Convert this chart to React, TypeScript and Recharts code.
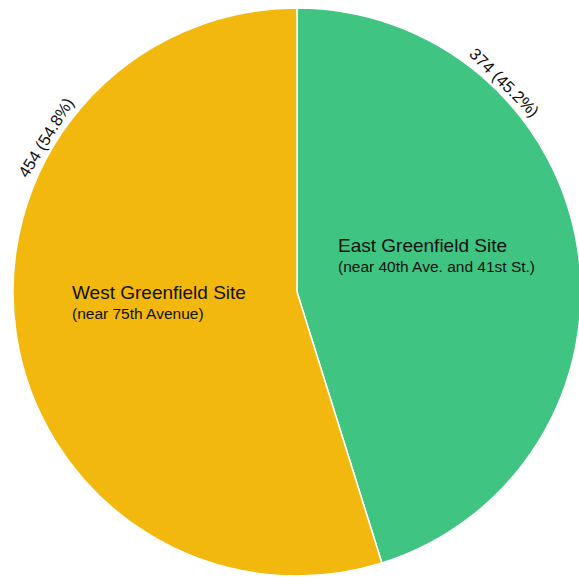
import React from 'react';
import { PieChart, Pie, Cell } from 'recharts';

const sites = ['East Greenfield Site', 'West Greenfield Site'];
const subtitles = ['(near 40th Ave. and 41st St.)', '(near 75th Avenue)'];
const counts = [374, 454];
const colors = ['#3fc482', '#f2b80e'];

// where each value label sits along the rim, degrees clockwise from 12 o'clock
const rimLabelAngle = [44.7, 301.6];
// inside label anchor, offset from the pie centre
const innerLabelOffset = [
  { dx: 41, dy: -40 },
  { dx: -225, dy: 7 },
];

const data = sites.map((name, i) => ({ name, sub: subtitles[i], value: counts[i] }));
const total = counts.reduce((a, b) => a + b, 0);

const renderLabel = (props: any) => {
  const { cx, cy, outerRadius, index, value } = props;
  const deg = rimLabelAngle[index];
  const rad = (deg * Math.PI) / 180;
  const r = outerRadius + 5;
  const x = cx + r * Math.sin(rad);
  const y = cy - r * Math.cos(rad);
  const rot = deg > 180 ? deg - 360 : deg;
  const pct = ((value / total) * 100).toFixed(1);
  const off = innerLabelOffset[index];
  return (
    <g>
      <text
        x={x}
        y={y}
        textAnchor="middle"
        fontSize={16.5}
        fill="#111"
        transform={`rotate(${rot} ${x} ${y})`}
      >
        {`${value} (${pct}%)`}
      </text>
      <text x={cx + off.dx} y={cy + off.dy} fontSize={19} fill="#111">
        {data[index].name}
      </text>
      <text x={cx + off.dx} y={cy + off.dy + 20} fontSize={15.5} fill="#111">
        {data[index].sub}
      </text>
    </g>
  );
};

export default function App() {
  return (
    <div style={{ position: 'absolute', left: 0, top: 0, fontFamily: 'Arial, "Liberation Sans", Helvetica, sans-serif' }}>
      <PieChart width={579} height={577} margin={{ top: 0, right: 0, bottom: 0, left: 0 }}>
        <Pie
          data={data}
          dataKey="value"
          cx={297}
          cy={292}
          outerRadius={284}
          startAngle={90}
          endAngle={-270}
          stroke="#ffffff"
          strokeWidth={1.5}
          label={renderLabel}
          labelLine={false}
          isAnimationActive={false}
        >
          {data.map((d, i) => (
            <Cell key={d.name} fill={colors[i]} />
          ))}
        </Pie>
      </PieChart>
    </div>
  );
}
